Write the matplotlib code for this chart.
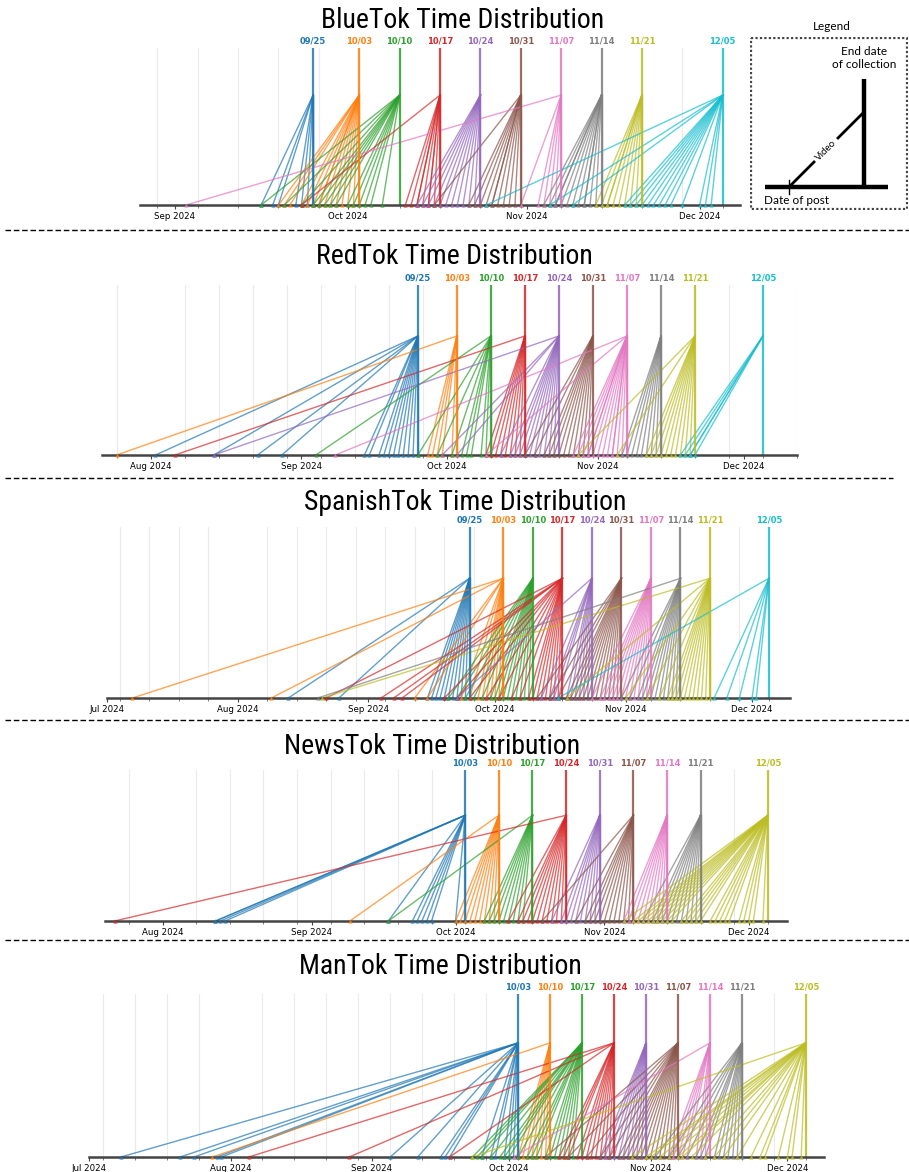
import datetime as dt
import matplotlib
matplotlib.use("Agg")
import matplotlib.pyplot as plt
import matplotlib.dates as mdates
from matplotlib import font_manager as fm
from matplotlib.lines import Line2D
from matplotlib.patches import Rectangle

W, H = 909, 1172

# collection end dates and, per end date, how many days before it each video was posted
blue_dates = ["2024-09-25", "2024-10-03", "2024-10-10", "2024-10-17", "2024-10-24",
              "2024-10-31", "2024-11-07", "2024-11-14", "2024-11-21", "2024-12-05"]
blue_offsets = [
    [9, 7, 6, 3, 2, 1, 0, 0],
    [14, 13, 12, 10, 9, 8, 7, 7, 6, 5, 4, 3, 2, 1, 0],
    [24, 20, 17, 15, 14, 13, 12, 11, 9, 8, 7, 6, 5, 3],
    [24, 6, 5, 4, 4, 3, 2, 2, 1, 0],
    [11, 10, 9, 8, 7, 6, 5, 4, 3, 2, 1, 0],
    [15, 9, 8, 7, 6, 5, 5, 4, 3, 2, 1, 0],
    [65, 7, 4, 3, 2, 1, 0],
    [10, 9, 8, 8, 7, 6, 5, 4, 3, 3, 2, 1, 0],
    [8, 7, 6, 6, 5, 4, 3, 2, 1, 0],
    [41, 30, 26, 17, 16, 15, 14, 13, 12, 11, 10, 9, 7, 4, 3, 2],
]

red_dates = blue_dates
red_offsets = [
    [54, 42, 33, 28, 11, 10, 8, 7, 6, 5, 4, 3, 2, 1, 0],
    [70, 6, 5, 4, 3, 1, 0],
    [36, 15, 11, 8, 6, 5, 4, 2, 1, 0],
    [72, 8, 7, 6, 5, 4, 3, 2, 1, 0],
    [71, 24, 21, 12, 10, 9, 8, 7, 6, 5, 4, 3, 2, 1],
    [14, 12, 10, 9, 8, 7, 6, 5, 4, 3, 2, 1],
    [60, 29, 11, 10, 9, 8, 8, 7, 6, 5, 4, 3, 3, 2, 1, 0],
    [8, 7, 6, 5, 4, 3, 2, 1, 0],
    [24, 16, 10, 9, 8, 7, 6, 5, 4, 3, 2, 1],
    [17, 16, 15, 15, 14],
]

spanish_dates = blue_dates
spanish_offsets = [
    [43, 31, 10, 9, 8, 7, 6, 5, 4, 3, 2, 1, 0],
    [88, 55, 21, 18, 10, 8, 6, 5, 4, 3, 2, 1, 0],
    [20, 18, 16, 14, 12, 10, 9, 8, 7, 6, 5, 4, 3, 2, 1],
    [56, 43, 40, 38, 28, 25, 22, 18, 15, 12, 10, 8, 7, 6, 5, 4, 3, 2, 1],
    [32, 12, 10, 9, 8, 6, 5, 4, 3, 2, 1],
    [20, 17, 15, 13, 12, 11, 10, 9, 8, 7, 6, 5, 4, 3, 2, 1],
    [14, 12, 11, 10, 9, 8, 7, 6, 5, 4, 3, 2, 1],
    [86, 14, 12, 10, 9, 8, 7, 6, 5, 4, 3, 2, 1, 0],
    [92, 34, 20, 15, 12, 10, 9, 8, 7, 6, 5, 4, 3, 2, 1, 0],
    [50, 13, 10, 7, 4, 3],
]

news_dates = ["2024-10-03", "2024-10-10", "2024-10-17", "2024-10-24", "2024-10-31",
              "2024-11-07", "2024-11-14", "2024-11-21", "2024-12-05"]
news_offsets = [
    [52, 52, 51, 50, 16, 11, 10, 9, 8, 7, 2, 0],
    [31, 9, 8, 7, 6, 5, 4, 3, 2, 1, 0],
    [30, 10, 9, 8, 7, 6, 5, 4, 3, 2, 0],
    [94, 12, 10, 9, 8, 7, 6, 5, 4, 3, 2, 1, 0],
    [10, 8, 7, 6, 5, 4, 3, 2, 1, 0],
    [19, 12, 10, 9, 8, 7, 6, 5, 4, 3, 2, 1, 0],
    [9, 8, 7, 6, 5, 4, 3, 2, 1, 0],
    [12, 10, 9, 8, 7, 6, 5, 4, 3, 2, 1, 0],
    [30, 28, 27, 26, 25, 24, 23, 22, 21, 20, 18, 17, 16, 15, 14, 12, 11, 10, 9, 8, 6, 5, 4, 3, 1],
]

man_dates = news_dates
man_offsets = [
    [87, 74, 71, 66, 65, 28, 22, 17, 16, 15, 8, 6, 5, 3, 2, 1, 0],
    [74, 7, 6, 5, 4, 3, 2, 1],
    [24, 23, 22, 20, 18, 17, 16, 14, 12, 11, 10, 8, 7, 6, 5, 4, 3, 2],
    [80, 58, 36, 12, 11, 10, 8, 7, 6, 5, 4, 3, 2, 1],
    [10, 9, 8, 7, 6, 5, 4, 3, 2, 1, 0],
    [29, 24, 20, 17, 15, 13, 12, 11, 10, 9, 8, 7, 6, 5, 4, 3, 2, 1],
    [43, 9, 8, 7, 6, 5, 3, 2, 1],
    [19, 16, 14, 12, 10, 9, 8, 6, 5, 4, 3, 2, 1, 0],
    [73, 38, 35, 34, 32, 30, 28, 27, 25, 22, 20, 18, 15, 12, 10, 9, 6, 4, 3, 1],
]


def have_font(name):
    try:
        fm.findfont(fm.FontProperties(family=name), fallback_to_default=False)
        return True
    except Exception:
        return False


# narrow title face if one is around, otherwise Roboto a bit smaller
if have_font('Roboto Condensed'):
    TITLE_FONT, TITLE_SIZE = ['Roboto Condensed', 'DejaVu Sans'], 20
elif have_font('Liberation Sans Narrow'):
    TITLE_FONT, TITLE_SIZE = ['Liberation Sans Narrow', 'DejaVu Sans'], 20
else:
    TITLE_FONT, TITLE_SIZE = ['Roboto', 'DejaVu Sans'], 17.5
LEG_FONT = ['Lato', 'DejaVu Sans']


def px_rect(x0, y_top, x1, y_bot):
    return [x0 / W, 1 - y_bot / H, (x1 - x0) / W, (y_bot - y_top) / H]


def d(s):
    return dt.datetime.strptime(s, "%Y-%m-%d")


def draw_panel(fig, box, xlim, title, title_xy, dates, offsets):
    ax = fig.add_axes(px_rect(*box))
    colors = plt.get_cmap('tab10').colors
    for i, (ds, offs) in enumerate(zip(dates, offsets)):
        c = colors[i]
        end = d(ds)
        for o in offs:
            start = end - dt.timedelta(days=o)
            ax.plot([start, end], [0, 0.7], color=c, lw=1.0, alpha=0.7, zorder=2)
            ax.plot([start], [0], marker='^', ms=3, color=c, alpha=0.85,
                    zorder=5, clip_on=False, markeredgewidth=0)
        ax.plot([end, end], [0, 1], color=c, lw=1.6, alpha=0.85, zorder=3)
        ax.text(end, 1.015, end.strftime("%m/%d"), color=c, fontsize=6,
                fontweight='bold', ha='center', va='bottom')
    ax.set_xlim(d(xlim[0]), d(xlim[1]))
    ax.set_ylim(0, 1)
    ax.xaxis.set_major_locator(mdates.MonthLocator())
    ax.xaxis.set_major_formatter(mdates.DateFormatter('%b %Y'))
    ax.xaxis.set_minor_locator(mdates.WeekdayLocator(byweekday=mdates.TH))
    ax.grid(which='minor', axis='x', color='#ebebeb', lw=0.8, zorder=0)
    ax.tick_params(axis='x', which='major', labelsize=6.2, length=3, width=0.8,
                   color='#444444', pad=2)
    ax.tick_params(axis='x', which='minor', length=2, width=0.6, color='#666666')
    ax.set_yticks([])
    for s in ['top', 'left', 'right']:
        ax.spines[s].set_visible(False)
    ax.spines['bottom'].set_linewidth(1.8)
    ax.spines['bottom'].set_color('#444444')
    ax.spines['bottom'].set_zorder(4)
    fig.text(title_xy[0] / W, 1 - title_xy[1] / H, title, fontsize=TITLE_SIZE,
             family=TITLE_FONT, ha='center', va='center')
    return ax


fig = plt.figure(figsize=(W / 100, H / 100), dpi=100)

draw_panel(fig, (140, 48, 740, 205), ("2024-08-26", "2024-12-08"),
           "BlueTok Time Distribution", (463, 20), blue_dates, blue_offsets)
draw_panel(fig, (102, 285, 797, 455), ("2024-07-22", "2024-12-12"),
           "RedTok Time Distribution", (454, 256), red_dates, red_offsets)
draw_panel(fig, (107, 527, 790, 698), ("2024-07-01", "2024-12-10"),
           "SpanishTok Time Distribution", (465, 502), spanish_dates, spanish_offsets)
draw_panel(fig, (105, 770, 787, 921), ("2024-07-20", "2024-12-09"),
           "NewsTok Time Distribution", (432, 746), news_dates, news_offsets)
draw_panel(fig, (89, 994, 824, 1157), ("2024-07-01", "2024-12-09"),
           "ManTok Time Distribution", (440, 966), man_dates, man_offsets)

# dashed separators between panels
for y, x0, x1 in [(230, 5, 909), (478, 5, 893), (720, 5, 909), (940, 5, 909)]:
    fig.add_artist(Line2D([x0 / W, x1 / W], [1 - y / H, 1 - y / H], color='black',
                          lw=1.0, ls=(0, (4, 2)), transform=fig.transFigure))

# legend schematic, in pixel-like coordinates inside its own axes
lx0, ly0, lx1, ly1 = 750, 37, 908, 210
lg = fig.add_axes(px_rect(lx0, ly0, lx1, ly1))
lg.set_xlim(lx0, lx1)
lg.set_ylim(ly1, ly0)
lg.axis('off')
lg.add_patch(Rectangle((lx0 + 1, ly0 + 1), lx1 - lx0 - 2, ly1 - ly0 - 2, fill=False,
                       ec='#444444', lw=1.6, ls=(0, (1, 1))))
lg.plot([864, 864], [79, 188], color='black', lw=3.2, solid_capstyle='butt')
lg.plot([765, 888], [187, 187], color='black', lw=3.2, solid_capstyle='butt')
lg.plot([789, 814], [187, 162], color='black', lw=2)
lg.plot([838, 864], [138, 112], color='black', lw=2)
lg.plot([789, 789], [180, 194], color='black', lw=1)
lg.text(826, 150, "Video", rotation=45, fontsize=7, family=LEG_FONT,
        ha='center', va='center')
lg.text(864, 58, "End date\nof collection", fontsize=8.5, family=LEG_FONT,
        ha='center', va='center', linespacing=1.15)
lg.text(764, 201, "Date of post", fontsize=8.5, family=LEG_FONT, ha='left', va='center')
fig.text(832 / W, 1 - 27 / H, "Legend", fontsize=8.5, family=LEG_FONT,
         ha='center', va='center')

fig.savefig("out.png", dpi=100)
